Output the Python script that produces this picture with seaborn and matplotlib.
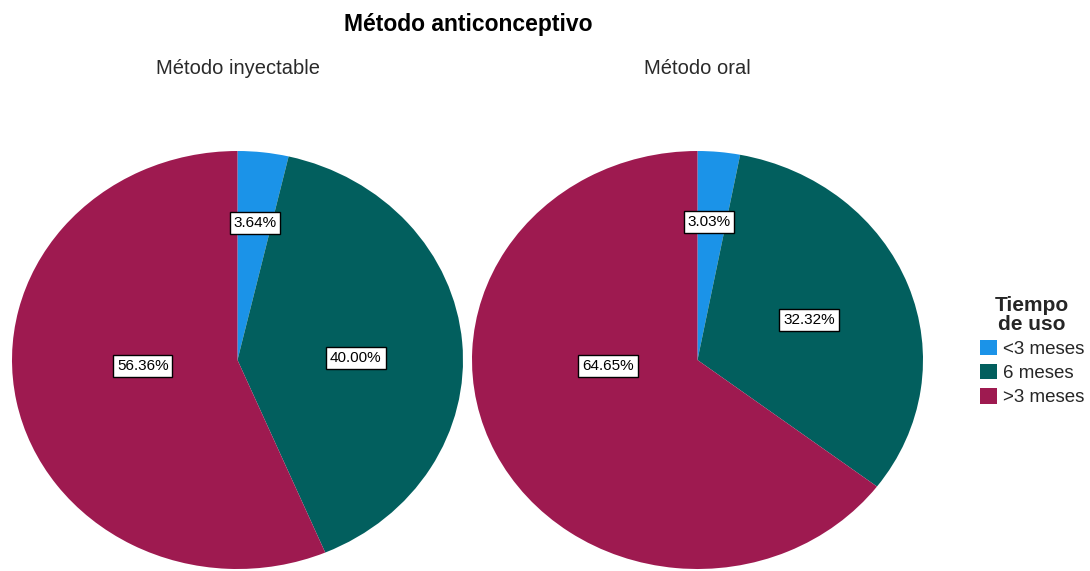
import matplotlib
matplotlib.use("Agg")
import matplotlib.pyplot as plt
from matplotlib.patches import Patch
import seaborn as sns

# Percentages of use time per contraceptive method
categories = ["<3 meses", "6 meses", ">3 meses"]
inyectable = [3.64, 40.00, 56.36]
oral = [3.03, 32.32, 64.65]
panel_titles = ["Método inyectable", "Método oral"]
legend_title = "Tiempo\nde uso"
main_title = "Método anticonceptivo"

colors = ["#1b93e8", "#025f5e", "#9e1a50"]

# Label anchor points inside each ellipse (unit coordinates)
label_pos = [
    [(0.078, 0.655), (0.525, 0.01), (-0.42, -0.03)],
    [(0.051, 0.66), (0.494, 0.19), (-0.397, -0.03)],
]

sns.set_theme(style="white")
plt.rcParams["font.family"] = ["Liberation Sans", "DejaVu Sans"]

fig = plt.figure(figsize=(10.9, 5.71), dpi=100)

axes_rects = [
    [12 / 1090, 2 / 571, 451 / 1090, 418 / 571],
    [472 / 1090, 2 / 571, 451 / 1090, 418 / 571],
]

for rect, vals, title, pos in zip(axes_rects, [inyectable, oral], panel_titles, label_pos):
    ax = fig.add_axes(rect)
    wedges, texts = ax.pie(
        vals, colors=colors, startangle=90, counterclock=False,
        wedgeprops=dict(linewidth=0), radius=1,
    )
    ax.set_aspect("auto")
    ax.set_xlim(-1, 1)
    ax.set_ylim(-1, 1)
    ax.set_axis_off()
    for v, (x, y) in zip(vals, pos):
        ax.text(x, y, f"{v:.2f}%", ha="center", va="center", fontsize=11,
                color="black",
                bbox=dict(boxstyle="square,pad=0.25", facecolor="white",
                          edgecolor="black", linewidth=1))
    cx = rect[0] + rect[2] / 2
    fig.text(cx, 1 - 68 / 571, title, ha="center", va="center",
             fontsize=14.5, color="#2a2a2a")

fig.text(468 / 1090, 1 - 25 / 571, main_title, ha="center", va="center",
         fontsize=16.5, fontweight="bold", color="black")

handles = [Patch(facecolor=c, edgecolor="none") for c in colors]
leg = fig.legend(handles, categories, title=legend_title,
                 loc="center", bbox_to_anchor=(1032 / 1090, 1 - 351 / 571),
                 frameon=False, fontsize=13.5, title_fontsize=15,
                 handlelength=0.9, handleheight=0.9, handletextpad=0.3,
                 labelspacing=0.32, borderaxespad=0, borderpad=0)
leg.get_title().set_fontweight("bold")
leg.get_title().set_multialignment("center")
leg.get_title().set_linespacing(1.0)

fig.savefig("out.png", dpi=100)
